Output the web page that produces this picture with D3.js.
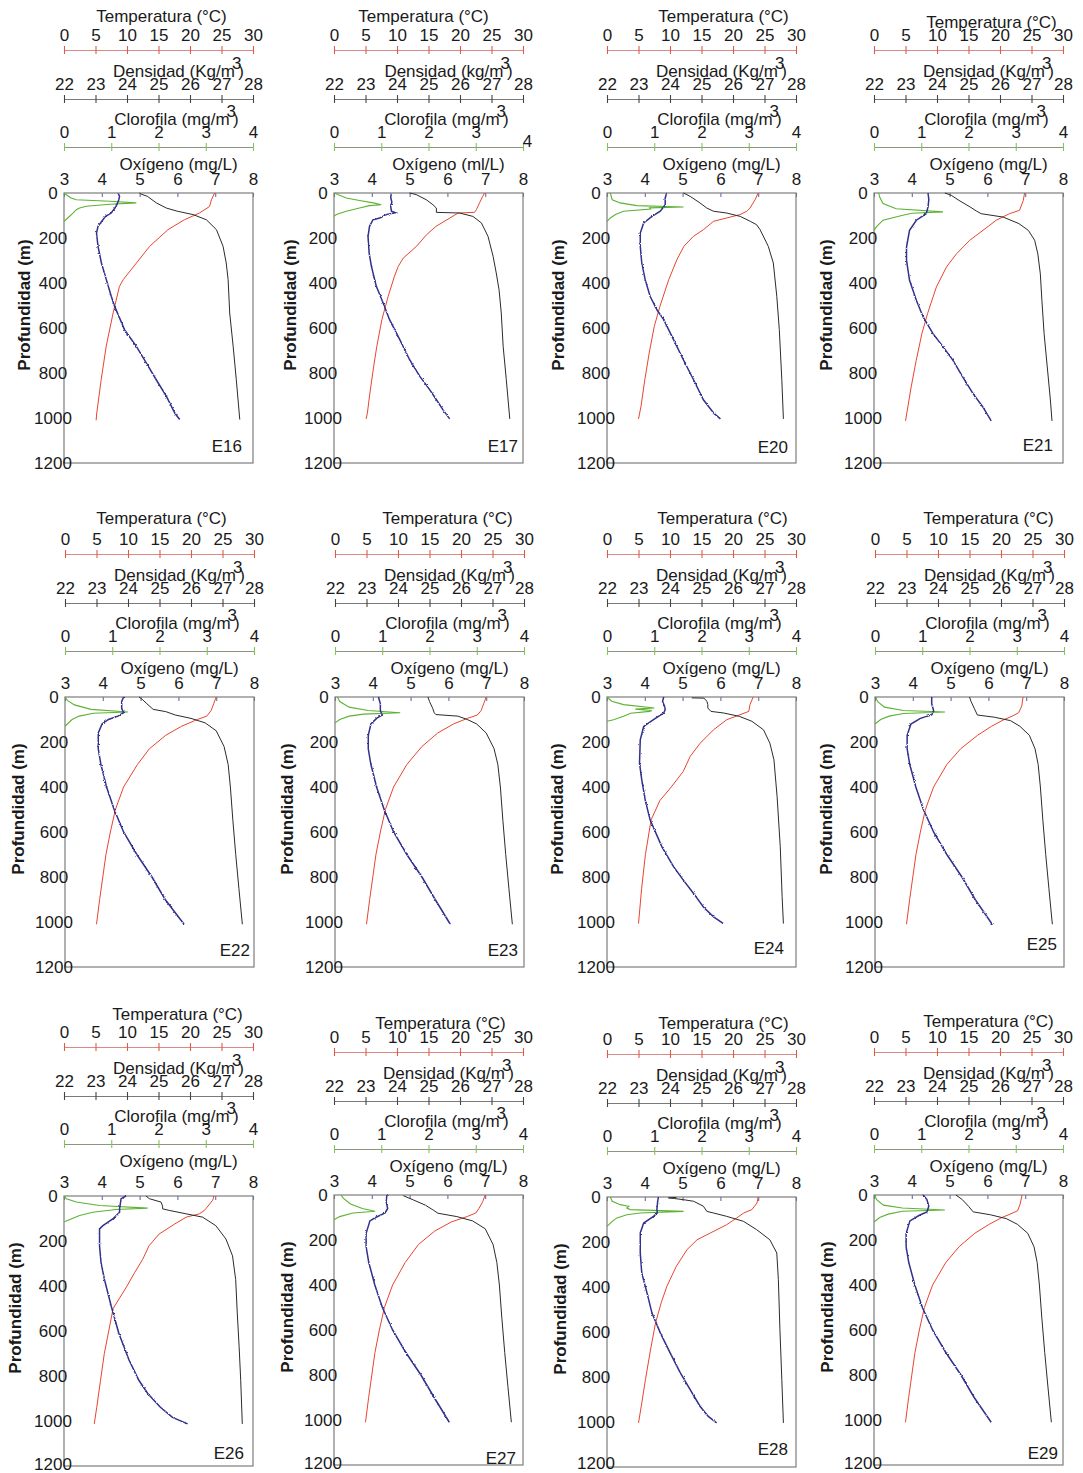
<!DOCTYPE html>
<html><head><meta charset="utf-8">
<script src="https://cdn.jsdelivr.net/npm/d3@7"></script>
<style>
body{margin:0;background:#fff;}
svg{display:block;font-family:"Liberation Sans",Arial,sans-serif;}
</style></head><body>
<svg id="chart" width="1083" height="1473"></svg>
<script>
// ---------------- DATA ----------------
const stations = ["E16","E17","E20","E21","E22","E23","E24","E25","E26","E27","E28","E29"];
const tempTicks = [0,5,10,15,20,25,30];
const densTicks = [22,23,24,25,26,27,28];
const chlTicks = [0,1,2,3,4];
const oxyTicks = [3,4,5,6,7,8];
const depthTicks = [0,200,400,600,800,1000,1200];
const densUnits = {E17:"kg"};          // others "Kg"
const oxyUnits = {E17:"ml/L"};         // others "mg/L"

// [depth (m), value]
const tempE16 = [[0,23.9],[30,23.4],[60,23.1],[89,21.5],[119,19.1],[163,16.5],[237,13.6],[311,11.5],[385,9.4],[415,8.8],[533,7.8],[681,6.7],[830,5.9],[978,5.2],[1010,5.1]];
const densE16 = [[0,24.4],[5,24.45],[15,24.65],[44,24.93],[67,25.25],[81,25.6],[96,26.1],[119,26.52],[163,26.84],[237,27.05],[311,27.15],[385,27.21],[533,27.26],[681,27.37],[830,27.47],[1007,27.58]];
const oxyE16 = [[0,4.43],[15,4.47],[30,4.45],[59,4.38],[89,4.25],[104,4.1],[119,4.03],[148,3.9],[178,3.86],[237,3.9],[311,3.99],[385,4.12],[459,4.25],[504,4.34],[607,4.6],[681,4.91],[756,5.18],[830,5.44],[904,5.71],[978,5.93],[1007,6.06]];
const chlE16 = [[0,0],[8,0.05],[22,0.15],[30,0.26],[37,0.97],[44,1.53],[50,0.97],[59,0.47],[67,0.33],[74,0.26],[89,0.19],[111,0.08],[126,0]];

const tempE17 = [[0,23.9],[15,23.6],[44,23.1],[74,22.6],[86,22.3],[89,19.7],[111,18.4],[148,16.2],[185,14.7],[237,13.1],[289,11.0],[326,10.2],[370,9.6],[459,8.6],[563,7.6],[681,6.8],[770,6.3],[889,5.7],[978,5.3],[1004,5.1]];
const densE17 = [[0,24.4],[7,24.61],[30,24.93],[52,25.14],[67,25.25],[86,25.25],[89,25.99],[104,26.41],[133,26.68],[193,26.89],[281,27.05],[355,27.15],[430,27.24],[533,27.31],[681,27.37],[830,27.47],[1004,27.58]];
const oxyE17 = [[0,4.52],[20,4.5],[40,4.53],[60,4.5],[81,4.52],[88,4.63],[95,4.4],[111,4.21],[119,4.03],[148,3.94],[193,3.9],[267,3.93],[326,3.99],[415,4.12],[489,4.3],[563,4.47],[652,4.74],[741,5.0],[815,5.27],[874,5.53],[919,5.71],[963,5.88],[1004,6.06]];
const chlE17 = [[0,0.02],[7,0.08],[22,0.26],[33,0.54],[44,0.83],[52,1.0],[56,0.75],[67,0.54],[81,0.26],[96,0.05],[104,0]];

const tempE20 = [[0,24.0],[30,23.5],[67,22.7],[81,22.2],[96,21.1],[111,19.0],[126,16.9],[163,15.3],[193,13.7],[237,12.2],[296,11.1],[385,9.8],[504,8.4],[593,7.5],[711,6.7],[830,6.0],[948,5.4],[1004,5.0]];
const densE20 = [[0,24.43],[15,24.64],[44,24.95],[67,25.17],[81,25.38],[89,25.8],[104,26.23],[126,26.55],[141,26.75],[163,26.86],[237,27.12],[311,27.28],[459,27.39],[607,27.47],[830,27.55],[1004,27.6]];
const oxyE20 = [[0,4.58],[22,4.54],[52,4.54],[81,4.41],[104,4.19],[133,3.97],[178,3.88],[237,3.88],[311,3.92],[385,4.01],[459,4.14],[519,4.32],[563,4.5],[652,4.76],[741,5.02],[830,5.29],[919,5.55],[978,5.82],[1004,6.0]];
const chlE20 = [[0,0.07],[30,0.11],[44,0.28],[56,0.63],[62,1.62],[66,0.9],[71,0.92],[81,0.35],[96,0.18],[111,0.07],[126,0]];

const tempE21 = [[0,23.9],[33,23.7],[77,23.1],[92,21.5],[121,19.4],[166,17.3],[210,15.2],[270,13.1],[329,11.5],[418,9.9],[536,8.5],[625,7.6],[744,6.7],[862,5.9],[1013,5.0]];
const densE21 = [[0,24.25],[10,24.45],[33,24.7],[62,25.05],[80,25.25],[92,25.4],[107,26.1],[136,26.6],[166,26.9],[210,27.1],[270,27.2],[359,27.28],[477,27.33],[625,27.4],[773,27.5],[920,27.6],[1013,27.65]];
const oxyE21 = [[0,4.43],[30,4.45],[62,4.43],[92,4.38],[121,4.12],[166,3.94],[240,3.86],[299,3.86],[388,3.94],[477,4.12],[551,4.3],[625,4.56],[684,4.83],[744,5.09],[818,5.35],[892,5.62],[951,5.88],[1013,6.1]];
const chlE21 = [[0,0.1],[18,0.12],[47,0.19],[70,0.47],[84,1.46],[90,0.8],[99,0.61],[121,0.19],[151,0.05],[166,0]];

const tempE22 = [[0,24.0],[30,23.6],[60,23.2],[85,22.5],[100,21.0],[130,18.5],[170,16.0],[230,13.4],[300,11.5],[400,9.3],[500,8.0],[600,7.2],[700,6.5],[800,6.0],[900,5.5],[1010,5.0]];
const densE22 = [[0,24.35],[10,24.45],[30,24.6],[55,24.8],[65,25.2],[80,25.5],[95,26.0],[115,26.45],[150,26.8],[220,27.05],[300,27.18],[400,27.25],[550,27.33],[700,27.42],[850,27.52],[1010,27.63]];
const oxyE22 = [[0,4.55],[20,4.5],[50,4.5],[70,4.55],[85,4.4],[100,4.15],[120,3.98],[160,3.88],[230,3.88],[300,3.95],[400,4.1],[500,4.3],[600,4.55],[700,4.9],[800,5.3],[900,5.65],[1010,6.15]];
const chlE22 = [[0,0],[15,0.05],[35,0.2],[55,0.55],[67,1.33],[72,0.6],[85,0.3],[100,0.15],[120,0.05],[130,0]];

const tempE23 = [[0,24.0],[30,23.6],[60,23.2],[80,22.6],[95,21.0],[120,18.8],[160,16.3],[220,13.8],[300,11.4],[400,9.3],[500,8.0],[600,7.2],[700,6.5],[800,6.0],[900,5.5],[1010,5.0]];
const densE23 = [[0,24.95],[20,25.0],[50,25.1],[70,25.15],[78,25.2],[85,25.9],[100,26.2],[120,26.5],[160,26.8],[230,27.05],[300,27.17],[400,27.25],[550,27.33],[700,27.42],[850,27.52],[1010,27.63]];
const oxyE23 = [[0,4.15],[30,4.2],[60,4.2],[80,4.25],[95,4.1],[120,3.95],[170,3.88],[230,3.88],[300,3.95],[400,4.1],[500,4.3],[600,4.55],[700,4.9],[800,5.3],[900,5.65],[1010,6.05]];
const chlE23 = [[0,0.05],[20,0.1],[45,0.3],[60,0.7],[70,1.38],[76,0.6],[85,0.3],[100,0.1],[115,0]];

const tempE24 = [[0,23.2],[34,22.7],[64,22.5],[79,21.1],[101,19.0],[146,16.9],[205,14.8],[264,13.2],[331,12.1],[400,10.2],[460,8.4],[546,7.0],[700,6.1],[850,5.5],[1007,5.0]];
const densE24 = [[4,24.69],[5,25.08],[19,25.17],[34,25.2],[49,25.2],[64,25.3],[71,25.7],[86,26.2],[108,26.6],[146,26.97],[205,27.17],[279,27.3],[443,27.4],[665,27.5],[888,27.56],[1007,27.6]];
const oxyE24 = [[0,4.5],[20,4.47],[40,4.52],[56,4.54],[71,4.5],[101,4.23],[131,3.97],[190,3.88],[294,3.86],[368,3.92],[457,4.01],[546,4.14],[665,4.45],[754,4.76],[814,5.02],[873,5.29],[933,5.55],[977,5.82],[1007,6.08]];
const chlE24 = [[0,0],[19,0.1],[34,0.35],[49,1.0],[54,0.6],[60,0.95],[64,0.9],[72,0.5],[86,0.35],[101,0.14],[108,0]];

const tempE25 = [[0,23.5],[40,23.3],[70,22.8],[85,21.8],[100,20.5],[130,18.5],[170,16.3],[230,13.6],[300,11.4],[400,9.3],[500,8.0],[600,7.2],[700,6.5],[800,6.0],[900,5.5],[1010,5.0]];
const densE25 = [[0,25.0],[20,25.05],[50,25.15],[80,25.25],[90,25.8],[105,26.3],[130,26.6],[170,26.9],[230,27.08],[300,27.18],[400,27.25],[550,27.33],[700,27.42],[850,27.52],[1010,27.63]];
const oxyE25 = [[0,4.5],[30,4.5],[60,4.55],[80,4.5],[95,4.2],[120,3.95],[170,3.85],[230,3.85],[300,3.92],[400,4.08],[500,4.28],[600,4.55],[700,4.9],[800,5.3],[900,5.65],[1010,6.1]];
const chlE25 = [[0,0.02],[20,0.05],[45,0.2],[60,0.6],[67,1.48],[73,0.6],[85,0.3],[100,0.12],[120,0]];

const tempE26 = [[0,23.8],[19,23.6],[57,22.5],[64,22.3],[79,21.5],[94,19.4],[124,17.6],[169,15.1],[221,13.5],[281,12.5],[341,11.2],[400,10.0],[500,7.8],[600,7.1],[700,6.4],[819,5.8],[939,5.2],[1013,4.8]];
const densE26 = [[0,24.6],[12,24.71],[27,25.08],[45,25.13],[57,25.13],[64,25.34],[79,25.87],[94,26.4],[132,26.82],[191,27.14],[266,27.35],[371,27.45],[520,27.5],[670,27.56],[819,27.61],[1013,27.66]];
const oxyE26 = [[0,4.64],[12,4.51],[57,4.47],[72,4.47],[102,4.29],[132,4.03],[146,3.94],[221,3.94],[296,3.98],[371,4.07],[490,4.25],[610,4.45],[729,4.72],[819,4.98],[879,5.22],[939,5.55],[984,5.87],[1013,6.27]];
const chlE26 = [[0,0],[12,0.05],[27,0.26],[42,0.75],[54,1.77],[60,1.1],[72,0.61],[87,0.33],[102,0.15],[114,0.01]];

const tempE27 = [[0,24.0],[30,23.6],[60,23.0],[80,22.5],[95,21.2],[120,18.6],[160,16.0],[220,13.4],[300,11.3],[400,9.3],[500,8.0],[600,7.2],[700,6.5],[800,6.0],[900,5.5],[1010,5.0]];
const densE27 = [[3,24.2],[22,24.52],[45,24.9],[67,25.15],[81,25.3],[96,25.9],[115,26.4],[150,26.8],[220,27.05],[300,27.17],[400,27.25],[550,27.33],[700,27.42],[850,27.52],[1010,27.63]];
const oxyE27 = [[0,4.4],[30,4.38],[60,4.42],[80,4.35],[100,4.1],[115,3.95],[170,3.85],[230,3.85],[300,3.92],[400,4.08],[500,4.28],[600,4.55],[700,4.9],[800,5.3],[900,5.65],[1010,6.05]];
const chlE27 = [[0,0.15],[15,0.2],[40,0.35],[60,0.6],[72,0.87],[80,0.4],[96,0.12],[110,0]];

const tempE28 = [[0,24.0],[27,23.8],[56,23.0],[71,21.7],[93,20.6],[123,19.0],[160,16.4],[190,14.3],[234,12.7],[308,11.0],[397,9.5],[470,8.6],[560,7.7],[680,6.9],[812,6.1],[920,5.5],[1004,5.0]];
const densE28 = [[2,24.2],[4,23.95],[7,24.15],[12,24.43],[19,24.75],[41,25.06],[64,25.17],[71,25.38],[86,25.8],[108,26.33],[145,26.75],[190,27.17],[249,27.39],[367,27.44],[590,27.49],[812,27.55],[1004,27.6]];
const oxyE28 = [[0,4.36],[20,4.34],[56,4.32],[71,4.33],[86,4.23],[116,3.97],[160,3.88],[249,3.88],[338,3.92],[427,4.06],[516,4.19],[604,4.41],[693,4.67],[782,4.94],[856,5.2],[930,5.46],[975,5.68],[1004,5.9]];
const chlE28 = [[0,0.07],[19,0.11],[34,0.28],[41,0.46],[49,0.42],[56,0.49],[64,1.62],[71,0.7],[79,0.42],[93,0.21],[108,0.11],[123,0.04],[130,0]];

const tempE29 = [[0,23.5],[40,23.2],[70,22.8],[85,21.6],[100,20.3],[130,18.3],[170,16.0],[230,13.5],[300,11.4],[400,9.3],[500,8.0],[600,7.2],[700,6.5],[800,6.0],[900,5.5],[1010,5.0]];
const densE29 = [[0,24.6],[20,24.8],[50,25.0],[75,25.15],[88,25.7],[105,26.2],[130,26.55],[170,26.88],[230,27.08],[300,27.18],[400,27.25],[550,27.33],[700,27.42],[850,27.52],[1010,27.63]];
const oxyE29 = [[0,4.3],[20,4.4],[50,4.45],[75,4.4],[90,4.2],[115,3.95],[170,3.85],[230,3.85],[300,3.92],[400,4.08],[500,4.28],[600,4.55],[700,4.9],[800,5.3],[900,5.65],[1010,6.1]];
const chlE29 = [[0,0.02],[20,0.05],[45,0.2],[58,0.6],[67,1.5],[72,0.6],[85,0.3],[100,0.12],[120,0]];

// table built from the arrays
const profiles = {
  E16:{temp:tempE16,dens:densE16,oxy:oxyE16,chl:chlE16},
  E17:{temp:tempE17,dens:densE17,oxy:oxyE17,chl:chlE17},
  E20:{temp:tempE20,dens:densE20,oxy:oxyE20,chl:chlE20},
  E21:{temp:tempE21,dens:densE21,oxy:oxyE21,chl:chlE21},
  E22:{temp:tempE22,dens:densE22,oxy:oxyE22,chl:chlE22},
  E23:{temp:tempE23,dens:densE23,oxy:oxyE23,chl:chlE23},
  E24:{temp:tempE24,dens:densE24,oxy:oxyE24,chl:chlE24},
  E25:{temp:tempE25,dens:densE25,oxy:oxyE25,chl:chlE25},
  E26:{temp:tempE26,dens:densE26,oxy:oxyE26,chl:chlE26},
  E27:{temp:tempE27,dens:densE27,oxy:oxyE27,chl:chlE27},
  E28:{temp:tempE28,dens:densE28,oxy:oxyE28,chl:chlE28},
  E29:{temp:tempE29,dens:densE29,oxy:oxyE29,chl:chlE29}
};

// ---------------- LAYOUT ----------------
const W = 189, H = 270;
const layout = {
  E16:{x:64, y:193, ldx:-40, tdx:3,  tdy:0, sdx:-11, sdy:-11},
  E17:{x:334,y:193, ldx:-44, tdx:-5, tdy:0, sdx:-5,  sdy:-11},
  E20:{x:607,y:193, ldx:-49, tdx:22, tdy:0, sdx:-8,  sdy:-10},
  E21:{x:874,y:193, ldx:-48, tdx:23, tdy:6, sdx:-10, sdy:-12},
  E22:{x:65, y:697, ldx:-47, tdx:2,  tdy:-2,sdx:-4,  sdy:-11},
  E23:{x:335,y:697, ldx:-48, tdx:18, tdy:-2,sdx:-6,  sdy:-11},
  E24:{x:607,y:697, ldx:-50, tdx:21, tdy:-2,sdx:-12, sdy:-13},
  E25:{x:875,y:697, ldx:-49, tdx:19, tdy:-2,sdx:-7,  sdy:-17},
  E26:{x:64, y:1196,ldx:-49, tdx:19, tdy:1, sdx:-9,  sdy:-7, dy:-6},
  E27:{x:334,y:1195,ldx:-47, tdx:12, tdy:5, sdx:-7,  sdy:-1},
  E28:{x:607,y:1197,ldx:-47, tdx:22, tdy:3, sdx:-8,  sdy:-12},
  E29:{x:874,y:1195,ldx:-47, tdx:20, tdy:3, sdx:-5,  sdy:-6}
};

const COL = {temp:"#e8452f", dens:"#2b2b2b", chl:"#5db233", oxy:"#30308c"};
const FS = 17;
const fmt = d3.format("d");

const svg = d3.select("#chart");
const defs = svg.append("defs");
const f = defs.append("filter").attr("id","jit").attr("filterUnits","userSpaceOnUse")
  .attr("x",0).attr("y",0).attr("width",1083).attr("height",1473);
f.append("feTurbulence").attr("type","fractalNoise").attr("baseFrequency",0.9).attr("numOctaves",1).attr("seed",4).attr("result","n");
f.append("feDisplacementMap").attr("in","SourceGraphic").attr("in2","n").attr("scale",2.6)
  .attr("xChannelSelector","R").attr("yChannelSelector","G");

function styleText(sel){
  sel.attr("font-size",FS).attr("fill","#1a1a1a").attr("font-family","'Liberation Sans',Arial,sans-serif");
}

function topAxis(g, scale, ticks, yLine, lineColor, tickColor){
  const ax = d3.axisTop(scale).tickValues(ticks).tickFormat(fmt).tickSizeInner(4).tickSizeOuter(0).tickPadding(5);
  const a = g.append("g").attr("transform",`translate(0,${yLine})`).call(ax);
  a.attr("font-size",null).attr("font-family",null);
  a.select(".domain").attr("stroke",lineColor).attr("stroke-width",1.1);
  a.selectAll(".tick line").attr("y1",4).attr("y2",-4).attr("stroke",tickColor).attr("stroke-width",1.1);
  styleText(a.selectAll(".tick text"));
  return a;
}

function titleSup(g, x, y, base){
  const t = g.append("text").attr("x",x).attr("y",y).attr("text-anchor","middle");
  styleText(t);
  t.append("tspan").text(base);
  t.append("tspan").attr("dy",-8).attr("dx",-3).text("3");
  t.append("tspan").attr("dy",8).attr("dx",-3).text(")");
}

stations.forEach(st => {
  const L = layout[st], P = profiles[st];
  const x0 = L.x, x1 = L.x + W, y0 = L.y, y1 = L.y + H;
  const dy = L.dy || 0;
  const cx = (x0 + x1) / 2;
  const g = svg.append("g");

  const xT = d3.scaleLinear().domain([0,30]).range([x0,x1]);
  const xD = d3.scaleLinear().domain([22,28]).range([x0,x1]);
  const xC = d3.scaleLinear().domain([0,4]).range([x0,x1]);
  const xO = d3.scaleLinear().domain([3,8]).range([x0,x1]);
  const y = d3.scaleLinear().domain([0,1200]).range([y0,y1]);

  // top axes
  topAxis(g, xT, tempTicks, y0-143+dy, "#d98a86", "#e05a4a");
  g.append("text").attr("x",cx+L.tdx).attr("y",y0-171+L.tdy+dy).attr("text-anchor","middle")
    .call(styleText).text("Temperatura (°C)");
  topAxis(g, xD, densTicks, y0-94+dy, "#7a7a7a", "#444");
  titleSup(g, cx+20, y0-116+dy, `Densidad (${densUnits[st]||"Kg"}/m`);
  const ca = topAxis(g, xC, chlTicks, y0-46+dy, "#8c9580", "#86c25a");
  if (st === "E17") ca.selectAll(".tick text").filter(d => d === 4).attr("y",0).attr("dx",4);
  titleSup(g, cx+18, y0-68+dy, "Clorofila (mg/m");

  // oxygen axis (top of box)
  const oa = g.append("g").attr("transform",`translate(0,${y0})`)
    .call(d3.axisTop(xO).tickValues(oxyTicks).tickFormat(fmt).tickSizeInner(-4).tickSizeOuter(0).tickPadding(8));
  oa.attr("font-size",null).attr("font-family",null);
  oa.select(".domain").remove();
  oa.selectAll(".tick line").attr("stroke","#6b6ba8").attr("stroke-width",1.1);
  styleText(oa.selectAll(".tick text"));
  g.append("text").attr("x",cx+20).attr("y",y0-23+dy).attr("text-anchor","middle")
    .call(styleText).text(`Oxígeno (${oxyUnits[st]||"mg/L"})`);

  // box
  g.append("rect").attr("x",x0).attr("y",y0).attr("width",W).attr("height",H)
    .attr("fill","none").attr("stroke","#7d7d7d").attr("stroke-width",1.2);

  // depth axis
  const ya = g.append("g").attr("transform",`translate(${x0},0)`)
    .call(d3.axisLeft(y).tickValues(depthTicks).tickFormat(fmt).tickSize(0).tickPadding(0));
  ya.attr("font-size",null).attr("font-family",null);
  ya.select(".domain").remove();
  ya.selectAll(".tick text").attr("x",-11)
    .attr("dy", d => (d === 1200 && y1 > 1400) ? (y1 > 1466 ? "0.08em" : "0.2em") : "0.3em")
    .attr("text-anchor","middle").call(styleText);

  g.append("text").attr("transform",`translate(${x0+L.ldx},${y0+112}) rotate(-90)`)
    .attr("text-anchor","middle").attr("dominant-baseline","central")
    .attr("font-weight","bold").call(styleText).text("Profundidad (m)");

  // profiles
  const mk = sx => d3.line().x(d => sx(d[1])).y(d => y(d[0]));
  g.append("path").datum(P.chl).attr("d",mk(xC)).attr("fill","none").attr("stroke",COL.chl).attr("stroke-width",1.1);
  g.append("path").datum(P.temp).attr("d",mk(xT)).attr("fill","none").attr("stroke",COL.temp).attr("stroke-width",1);
  g.append("path").datum(P.dens).attr("d",mk(xD)).attr("fill","none").attr("stroke",COL.dens).attr("stroke-width",1);
  g.append("path").datum(P.oxy).attr("d",mk(xO)).attr("fill","none").attr("stroke",COL.oxy)
    .attr("stroke-width",1.5).attr("filter","url(#jit)");

  // station label
  g.append("text").attr("x",x1+L.sdx).attr("y",y1+L.sdy).attr("text-anchor","end").call(styleText).text(st);
});
</script>
</body></html>
